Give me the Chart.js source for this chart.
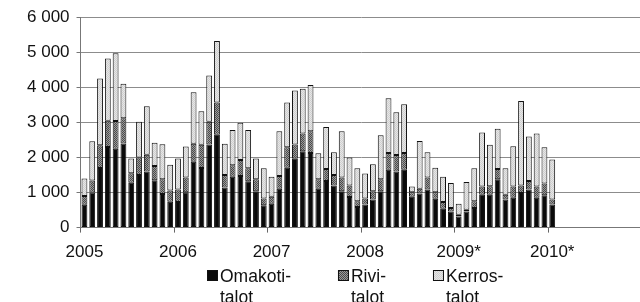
<!DOCTYPE html>
<html><head><meta charset="utf-8">
<script src="https://cdn.jsdelivr.net/npm/chart.js@4/dist/chart.umd.min.js"></script>
<style>
html,body{margin:0;padding:0;background:#fff;overflow:hidden;}
#wrap{position:relative;width:648px;height:302px;}
</style></head><body>
<div id="wrap"><canvas id="c" width="648" height="302"></canvas></div>
<script>
const yearLabels = ['2005', '2006', '2007', '2008', '2009*', '2010*'];
const seriesNames = ['Omakoti-\ntalot', 'Rivi-\ntalot', 'Kerros-\ntalot'];
const yTickValues = [0, 1000, 2000, 3000, 4000, 5000, 6000];

// Monthly values, Jan 2005 - Jan 2010
const omakotitalot = [650,1000,1700,2300,2250,2400,1280,1500,1600,1350,960,740,
  730,1010,1880,1700,2370,2650,1140,1450,1470,1320,1040,640,
  680,1110,1710,1960,2180,2130,1110,1330,1200,1040,870,590,
  660,800,1040,1650,1600,1650,880,970,1090,820,540,460,
  320,460,560,940,940,1380,800,850,990,1090,850,920,
  660];
const rivitalot = [250,340,650,750,790,720,270,500,480,410,420,320,
  360,420,510,660,650,920,360,330,460,370,340,190,
  200,360,580,410,500,620,270,340,300,390,330,160,
  170,240,340,480,470,480,130,140,340,190,190,100,
  50,50,190,230,240,290,140,320,210,240,320,340,
  140];
const kerrostalot = [500,1120,1900,1770,1930,980,420,1020,1380,660,1000,730,
  880,880,1470,960,1320,1750,890,1000,1060,1090,590,860,
  570,1280,1280,1540,1280,1320,740,1200,650,1320,800,940,
  710,770,1250,1560,1220,1390,160,1360,720,700,720,710,
  310,790,940,1540,1180,1150,750,1150,2410,1270,1510,1030,
  1140];

// 72 monthly categories (2005-2010)
const categories = [];
yearLabels.forEach(y => { for (let m = 1; m <= 12; m++) categories.push(y.replace('*','') + '-' + String(m).padStart(2,'0')); });

const FONT = "'Liberation Sans', Arial, sans-serif";

function makePattern(a, b) {
  const c = document.createElement('canvas');
  c.width = 2; c.height = 2;
  const g = c.getContext('2d');
  g.fillStyle = a; g.fillRect(0, 0, 2, 2);
  g.fillStyle = b; g.fillRect(0, 0, 1, 1); g.fillRect(1, 1, 1, 1);
  return g.createPattern(c, 'repeat');
}
const fillO = '#0a0a0a';
const fillR = makePattern('#9a9a9a', '#4a4a4a');
const fillK = makePattern('#e6e6e6', '#cfcfcf');

const legendPlugin = {
  id: 'customLegend',
  afterDraw(chart) {
    const ctx = chart.ctx;
    ctx.save();
    ctx.font = "17.5px " + FONT;
    ctx.textBaseline = 'alphabetic';
    ctx.textAlign = 'left';
    let x = 207;
    const boxTop = 270, box = 11, baseline = 282, lh = 21;
    chart.data.datasets.forEach(ds => {
      ctx.fillStyle = ds.backgroundColor;
      ctx.fillRect(x, boxTop, box, box);
      ctx.strokeStyle = '#111'; ctx.lineWidth = 1;
      ctx.strokeRect(x + 0.5, boxTop + 0.5, box - 1, box - 1);
      const lines = ds.label.split('\n');
      ctx.fillStyle = '#111';
      let w = 0;
      lines.forEach((ln, i) => { ctx.fillText(ln, x + box + 2, baseline + i * lh); w = Math.max(w, ctx.measureText(ln).width); });
      x += box + 2 + w + 47;
    });
    ctx.restore();
  }
};

new Chart(document.getElementById('c'), {
  type: 'bar',
  data: {
    labels: categories,
    datasets: [
      { label: seriesNames[0], data: omakotitalot, backgroundColor: fillO },
      { label: seriesNames[1], data: rivitalot, backgroundColor: fillR },
      { label: seriesNames[2], data: kerrostalot, backgroundColor: fillK }
    ]
  },
  options: {
    responsive: false,
    devicePixelRatio: 1,
    animation: false,
    datasets: { bar: { barPercentage: 0.75, categoryPercentage: 1, borderWidth: 1, borderColor: '#111', borderSkipped: false } },
    layout: { padding: { left: 20, top: 13, right: 1, bottom: 29 } },
    plugins: { legend: { display: false }, tooltip: { enabled: false } },
    scales: {
      x: {
        stacked: true,
        offset: true,
        grid: {
          offset: true,
          drawOnChartArea: false,
          drawTicks: true,
          tickLength: 5,
          color: c => (c.index % 12 === 0 ? '#666' : 'rgba(0,0,0,0)')
        },
        border: { display: true, color: '#777' },
        ticks: {
          autoSkip: false, maxRotation: 0, minRotation: 0, padding: 10,
          color: '#111', font: { size: 17, family: FONT },
          callback: (v, i) => (i % 12 === 0 ? yearLabels[i / 12] : '')
        }
      },
      y: {
        stacked: true,
        min: 0, max: 6000,
        afterBuildTicks: s => { s.ticks = yTickValues.map(v => ({ value: v })); },
        grid: { color: '#8c8c8c', tickLength: 4, tickColor: '#777' },
        border: { display: true, color: '#777' },
        ticks: {
          padding: 7, color: '#111', font: { size: 17, family: FONT },
          callback: v => String(v).replace(/\B(?=(\d{3})+(?!\d))/g, ' ')
        }
      }
    }
  },
  plugins: [legendPlugin]
});
</script>
</body></html>
